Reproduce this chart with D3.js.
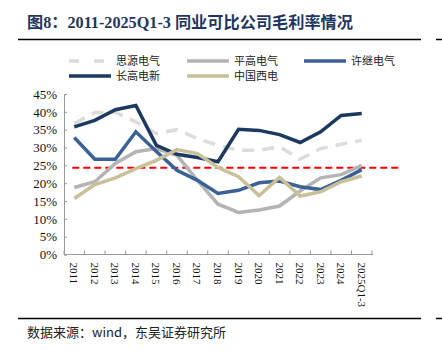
<!DOCTYPE html>
<html>
<head>
<meta charset="utf-8">
<script src="https://cdn.jsdelivr.net/npm/d3@7"></script>
<style>
  body { margin: 0; background: #fff; }
  svg { display: block; }
</style>
</head>
<body>
<svg id="chart" width="442" height="351"></svg>
<script>
// categories + series values (gross margin %)
const years = ["2011", "2012", "2013", "2014", "2015", "2016", "2017", "2018", "2019", "2020", "2021", "2022", "2023", "2024", "2025Q1-3"]
const siyuan   = [36.7, 39.8, 39.9, 37.2, 33.9, 35.0, 32.5, 30.6, 29.2, 29.2, 30.2, 26.7, 29.7, 30.9, 32.0]
const pinggao  = [18.8, 20.4, 25.5, 28.8, 29.7, 27.8, 20.8, 14.1, 11.8, 12.5, 13.6, 17.8, 21.5, 22.4, 25.0]
const xuji     = [32.8, 26.7, 26.7, 34.4, 28.9, 23.6, 20.8, 17.1, 18.0, 20.1, 20.6, 19.0, 18.2, 20.8, 23.8]
const changgao = [35.8, 37.6, 40.6, 41.8, 30.6, 28.1, 27.2, 26.0, 35.1, 34.8, 33.6, 31.4, 34.4, 39.0, 39.5]
const xidian   = [15.7, 19.6, 21.5, 24.1, 26.4, 29.4, 28.3, 24.4, 21.8, 16.5, 21.6, 16.4, 17.6, 20.4, 22.0]
const avgLine = 24.3
const yTicks = [0, 5, 10, 15, 20, 25, 30, 35, 40, 45]

const series = [
    {name: "思源电气", values: siyuan,   color: "#dcdcdc", dash: "12,8"},
    {name: "平高电气", values: pinggao,  color: "#b4b4b4", dash: null},
    {name: "许继电气", values: xuji,     color: "#3b6195", dash: null},
    {name: "长高电新", values: changgao, color: "#1c3960", dash: null},
    {name: "中国西电", values: xidian,   color: "#c9c09a", dash: null}
]

const svg = d3.select("#chart")
const serif = "'Liberation Serif', 'Times New Roman', serif"
const cjk = "'Noto Sans CJK SC', sans-serif"

// title + rules
svg.append("text")
    .attr("x", 27).attr("y", 28)
    .attr("font-family", serif + ", 'Noto Sans CJK SC'")
    .attr("font-weight", "bold")
    .attr("font-size", "16.2px")
    .attr("fill", "#1f3760")
    .text("图8：2011-2025Q1-3 同业可比公司毛利率情况")

svg.append("line").attr("x1", 18).attr("x2", 421).attr("y1", 39.5).attr("y2", 39.5)
    .attr("stroke", "#000").attr("stroke-width", 1.5)
svg.append("line").attr("x1", 436).attr("x2", 442).attr("y1", 39.5).attr("y2", 39.5)
    .attr("stroke", "#000").attr("stroke-width", 1.5)
svg.append("line").attr("x1", 18).attr("x2", 421).attr("y1", 318.5).attr("y2", 318.5)
    .attr("stroke", "#000").attr("stroke-width", 1.5)
svg.append("line").attr("x1", 436).attr("x2", 442).attr("y1", 318.5).attr("y2", 318.5)
    .attr("stroke", "#000").attr("stroke-width", 1.5)

svg.append("text")
    .attr("x", 27).attr("y", 337)
    .attr("font-family", cjk)
    .attr("font-size", "13px")
    .attr("fill", "#222")
    .text("数据来源：wind，东吴证券研究所")

// legend
const legendPos = [
    {x: 69, y: 61}, {x: 187, y: 61}, {x: 304, y: 61},
    {x: 69, y: 76}, {x: 187, y: 76}
]
const lg = svg.append("g")
series.forEach((s, i) => {
    const p = legendPos[i]
    lg.append("line")
        .attr("x1", p.x).attr("x2", p.x + 42)
        .attr("y1", p.y).attr("y2", p.y)
        .attr("stroke", s.color).attr("stroke-width", 3.5)
        .attr("stroke-dasharray", s.dash ? "10,15" : null)
    lg.append("text")
        .attr("x", p.x + 47).attr("y", p.y + 4)
        .attr("font-family", cjk).attr("font-size", "11px")
        .attr("fill", "#222")
        .text(s.name)
})

// plot area
const plotLeft = 64, plotRight = 372, plotTop = 94, plotBottom = 254.5

const x = d3.scaleBand().domain(years).range([plotLeft, plotRight])
const y = d3.scaleLinear().domain([0, 45]).range([plotBottom, plotTop])

const axisColor = "#999"

const yAxis = d3.axisLeft(y)
    .tickValues(yTicks)
    .tickSize(-3)
    .tickPadding(7)
    .tickFormat(d => d + "%")

svg.append("g")
    .attr("transform", `translate(${plotLeft},0)`)
    .call(yAxis)
    .call(g => g.select(".domain").attr("stroke", axisColor))
    .call(g => g.selectAll(".tick line").attr("stroke", axisColor))
    .call(g => g.selectAll("text")
        .attr("font-family", serif)
        .attr("font-size", "13px")
        .attr("fill", "#111"))

// bottom axis: ticks at band boundaries, labels rotated
const xg = svg.append("g").attr("transform", `translate(0,${plotBottom})`)
xg.append("line").attr("x1", plotLeft).attr("x2", plotRight + 1)
    .attr("stroke", axisColor)
const bounds = years.map(d => x(d)).concat([plotRight])
xg.selectAll(".bt").data(bounds).enter().append("line")
    .attr("x1", d => d).attr("x2", d => d)
    .attr("y1", 0).attr("y2", -4)
    .attr("stroke", axisColor)
xg.selectAll(".xl").data(years).enter().append("text")
    .attr("transform", d => `translate(${x(d) + x.bandwidth() / 2 - 4},${8}) rotate(90)`)
    .attr("font-family", serif)
    .attr("font-size", "11px")
    .attr("fill", "#111")
    .text(d => d)

// average dashed line
svg.append("line")
    .attr("x1", x(years[0]) + x.bandwidth() / 2 - 2)
    .attr("x2", plotRight + 30)
    .attr("y1", y(avgLine)).attr("y2", y(avgLine))
    .attr("stroke", "#ff0000")
    .attr("stroke-width", 2)
    .attr("stroke-dasharray", "7,4")

// series lines
const line = d3.line()
    .x((d, i) => x(years[i]) + x.bandwidth() / 2)
    .y(d => y(d))

svg.append("g").selectAll("path")
    .data(series)
    .enter()
    .append("path")
    .attr("d", d => line(d.values))
    .attr("fill", "none")
    .attr("stroke", d => d.color)
    .attr("stroke-width", 3.5)
    .attr("stroke-linejoin", "miter")
    .attr("stroke-dasharray", d => d.dash)
</script>
</body>
</html>
